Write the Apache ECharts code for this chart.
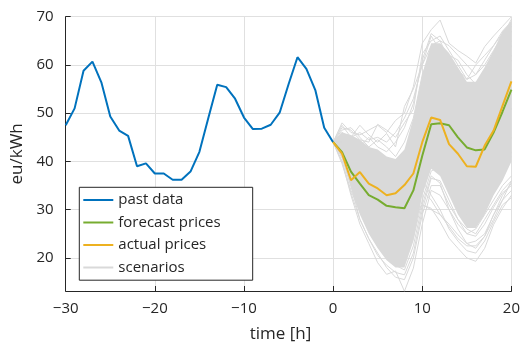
<!DOCTYPE html>
<html>
<head>
<meta charset="utf-8">
<script src="https://cdn.jsdelivr.net/npm/echarts@6/dist/echarts.min.js"></script>
<style>
  html, body { margin: 0; padding: 0; background: #fff; }
  #chart { width: 523px; height: 348px; }
</style>
</head>
<body>
<div id="chart"></div>
<script>
// past hours and prices
const pastHours = [-30, -29, -28, -27, -26, -25, -24, -23, -22, -21, -20, -19, -18, -17, -16, -15,
  -14, -13, -12, -11, -10, -9, -8, -7, -6, -5, -4, -3, -2, -1, 0];
const pastPrices = [47.5, 51.0, 58.8, 60.7, 56.4, 49.3, 46.4, 45.3, 39.0, 39.6, 37.5, 37.5, 36.2, 36.2,
  37.9, 42.0, 49.0, 55.9, 55.4, 53.0, 49.1, 46.7, 46.8, 47.6, 50.1, 56.0, 61.6, 59.2, 54.8, 47.0, 44.0];

// future hours
const futureHours = [0, 1, 2, 3, 4, 5, 6, 7, 8, 9, 10, 11, 12, 13, 14, 15, 16, 17, 18, 19, 20];
const forecastPrices = [44.0, 41.9, 37.9, 35.4, 33.0, 32.1, 30.8, 30.5, 30.3, 34.0, 41.2, 47.7, 47.9,
  47.5, 45.0, 42.9, 42.3, 42.5, 46.0, 50.3, 54.9];
const actualPrices = [44.0, 41.6, 36.1, 37.8, 35.4, 34.4, 33.0, 33.4, 35.1, 37.5, 44.0, 49.1, 48.6,
  43.6, 41.6, 39.0, 38.9, 43.3, 46.4, 51.5, 56.6];

// dense part of the scenario fan (lower / upper edge)
const scenLow = [44, 40.5, 34.5, 29, 25, 22, 19.5, 18, 18, 23.5, 33, 38.5, 37, 33, 29, 26.2, 26.2, 29, 33, 36, 40];
const scenHigh = [44, 46, 45.5, 44.5, 43, 42.5, 41, 40.5, 42.5, 49, 58, 64.5, 64.5, 62.5, 59.5, 56.5, 56.5, 59.5, 63, 67, 69];

// single scenario lines
const scenarios = [
  [44, 48, 46, 45.5, 46.5, 47.5, 46, 48.5, 50, 55.5, 64.5, 67.3, 69.3, 64.5, 63, 61.8, 60.4, 63.8, 66, 68, 70],
  [44, 47, 46.5, 44.5, 44, 47.7, 46.5, 45, 48, 50.8, 62.3, 65, 66, 63, 60, 57, 60, 62, 64, 67, 69],
  [44, 46, 45, 47.5, 45.5, 44, 45.8, 43, 51.4, 55, 60, 66, 63, 62, 61, 58, 56, 58, 61, 65, 68],
  [44, 40, 33, 27, 23, 19, 16.6, 17.3, 13.1, 17.9, 27, 34, 33, 30, 27, 25, 26, 29, 32, 35, 37],
  [44, 41, 35, 28, 24, 21, 18, 16, 15.5, 20, 29, 35, 35, 31, 28, 26, 25, 28, 31, 34, 36],
  [44, 43, 38, 33, 30, 27, 25, 24, 26, 29, 31, 30.3, 27.5, 24.1, 22, 20, 19.3, 22, 26.9, 30.3, 33],
  [44, 42, 37, 32, 28, 25, 23, 22, 24, 28, 31, 30, 29, 27, 24.8, 23, 23.5, 25, 28.9, 33, 35.5],
  [44, 42.5, 39, 35, 31, 29, 27, 25, 27, 31, 36, 33, 30, 26, 23.5, 21.5, 21, 23.5, 27.5, 31, 32.5],
  [44, 44, 41, 38, 35, 33, 30, 29, 31, 37, 46, 54, 55, 51, 47, 44, 43, 46, 50, 55, 59],
  [44, 45, 43, 41, 39, 37, 36, 34, 37, 42, 52, 59, 60, 57, 53, 50, 49, 51, 55, 60, 64],
  [44, 43, 39, 35, 31, 28, 26, 24, 26, 32, 41, 48, 48, 44, 40, 37, 36, 39, 43, 47, 51],
  [44, 41.5, 36, 31, 27, 24, 21.5, 20, 21, 27, 36, 43, 42, 38, 34, 31, 30, 33, 37, 41, 45],
  [44, 45.5, 44.5, 43, 41.5, 40, 39, 38.5, 40, 46, 56, 62, 63, 60, 57, 54, 53, 56, 60, 64, 67],
  [44, 46.5, 47, 45, 43, 44.5, 43, 41, 44, 49, 58, 63, 61.5, 58, 55, 53, 52.5, 55, 58, 62, 65],
  [44, 40, 34, 29.5, 26, 23.5, 21, 19, 19, 24, 32, 38, 39, 35, 30.5, 27, 27.5, 30, 34, 38, 42],
  [44, 42, 38, 36, 33, 31, 28, 26, 29, 35, 43, 45, 40, 36, 32, 29, 29, 32, 36, 39, 41],
  [44, 47.5, 45, 46, 44.5, 45, 44, 46, 49, 53, 60, 64, 65, 61, 59, 57, 58, 61, 64, 66.5, 68.5],
  [44, 46, 44, 43, 45, 43, 42, 44, 47, 52, 61, 66.5, 65, 64, 62, 60, 58, 60, 63, 66, 69.5],
  [44, 39.5, 33.5, 28, 24, 20.5, 18.5, 17, 16.5, 21, 30, 36.5, 36, 32, 28, 25, 24.5, 27, 30.5, 33.5, 35],
  [44, 41, 36, 30, 26, 22.5, 20, 18.5, 17.5, 22.5, 31, 37, 35.5, 30, 26, 23, 22, 24.5, 29, 32, 34],
  [44, 43.5, 40, 37, 34, 31.5, 29, 28, 30, 33, 34, 32, 29, 26.5, 24, 22.5, 22.5, 24.5, 28, 32, 36],
  [44, 45, 44, 42, 40, 38.5, 38, 37, 39, 44, 53, 58, 57, 53, 49, 46, 46, 49, 53, 58, 62],
  [44, 44.5, 42, 40, 37, 35, 33.5, 32, 34, 40, 49, 56, 58, 55, 51, 48, 47, 50, 54, 58, 61]
];

const xTicks = { min: -30, max: 20, interval: 10 };
const yRange = { min: 13.15, max: 70 };

const pair = (xs, ys) => xs.map((x, i) => [x, ys[i]]);
const gray = '#d9d9d9';
const ink = '#262626';
const font = 'Open Sans';

const series = [];
// filled core of the fan, drawn as one polygon through the axis scales
series.push({
  name: 'band', type: 'custom', silent: true, z: 1,
  data: pair(futureHours, scenLow),
  encode: { x: 0, y: 1 },
  renderItem: (params, api) => {
    if (params.dataIndex !== 0) return;
    const top = futureHours.map((h, i) => api.coord([h, scenHigh[i]]));
    const bottom = futureHours.map((h, i) => api.coord([h, scenLow[i]])).reverse();
    return { type: 'polygon', shape: { points: top.concat(bottom) }, style: { fill: gray } };
  }
});
scenarios.forEach(s => {
  series.push({
    name: 'scenarios', type: 'line', symbol: 'none', silent: true,
    lineStyle: { color: gray, width: 1 }, itemStyle: { color: gray },
    data: pair(futureHours, s), z: 2
  });
});
series.push({
  name: 'past data', type: 'line', symbol: 'none',
  lineStyle: { color: '#0072BD', width: 2 }, itemStyle: { color: '#0072BD' },
  data: pair(pastHours, pastPrices), z: 5
});
series.push({
  name: 'forecast prices', type: 'line', symbol: 'none',
  lineStyle: { color: '#77AC30', width: 2 }, itemStyle: { color: '#77AC30' },
  data: pair(futureHours, forecastPrices), z: 5
});
series.push({
  name: 'actual prices', type: 'line', symbol: 'none',
  lineStyle: { color: '#EDB120', width: 2 }, itemStyle: { color: '#EDB120' },
  data: pair(futureHours, actualPrices), z: 6
});

const chart = echarts.init(document.getElementById('chart'));
chart.setOption({
  animation: false,
  grid: { left: 65.7, right: 7.3, top: 16.7, bottom: 54.7 },
  legend: {
    data: ['past data', 'forecast prices', 'actual prices', 'scenarios'],
    orient: 'vertical',
    left: 79.3, top: 187.3,
    padding: [4.7, 32, 4.7, 4],
    icon: 'rect',
    itemWidth: 30, itemHeight: 2, itemGap: 6.5,
    backgroundColor: '#fff', borderColor: ink, borderWidth: 1,
    textStyle: { fontFamily: font, fontSize: 15, color: ink, lineHeight: 16 },
    selectedMode: false
  },
  xAxis: {
    type: 'value', min: xTicks.min, max: xTicks.max, interval: xTicks.interval,
    name: 'time [h]', nameLocation: 'middle', nameGap: 35,
    nameTextStyle: { fontFamily: font, fontSize: 17, color: ink, padding: [0, 16, 0, 0] },
    axisLine: { onZero: false, lineStyle: { color: ink, width: 1 } },
    axisTick: { inside: true, length: 5, lineStyle: { color: ink } },
    axisLabel: {
      fontFamily: font, fontSize: 15, color: ink, margin: 10,
      formatter: v => String(v).replace('-', '\u2212')
    },
    splitLine: { show: true, lineStyle: { color: '#e0e0e0', width: 1 } }
  },
  yAxis: {
    type: 'value', min: yRange.min, max: yRange.max,
    name: 'eu/kWh', nameLocation: 'middle', nameGap: 40,
    nameTextStyle: { fontFamily: font, fontSize: 17, color: ink },
    axisLine: { show: true, onZero: false, lineStyle: { color: ink, width: 1 } },
    axisTick: { inside: true, length: 5, lineStyle: { color: ink } },
    axisLabel: {
      fontFamily: font, fontSize: 15, color: ink, margin: 12, showMinLabel: false,
      formatter: v => (Math.abs(v % 10) < 1e-6 ? String(v) : '')
    },
    splitLine: { show: true, lineStyle: { color: '#e0e0e0', width: 1 } }
  },
  series: series
});
</script>
</body>
</html>
